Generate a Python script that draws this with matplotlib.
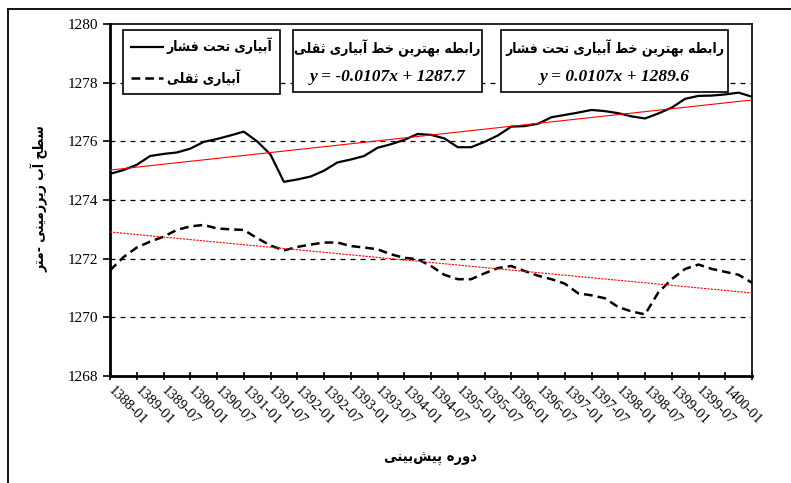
import matplotlib
matplotlib.use('Agg')
import matplotlib.pyplot as plt
from matplotlib.lines import Line2D
from matplotlib.patches import Rectangle
import numpy as np

plt.rcParams['font.family'] = 'DejaVu Sans'

# ----------------------------------------------------------------------------
# Data (quarterly readings, month index counted from the first category)
# ----------------------------------------------------------------------------
months = list(range(0, 145, 3))

pressurized = [1274.89, 1275.02, 1275.20, 1275.50, 1275.57, 1275.62, 1275.75,
               1275.98, 1276.08, 1276.20, 1276.33, 1276.00, 1275.55, 1274.62,
               1274.70, 1274.80, 1275.00, 1275.28, 1275.38, 1275.50, 1275.78,
               1275.90, 1276.05, 1276.25, 1276.22, 1276.10, 1275.80, 1275.80,
               1275.98, 1276.20, 1276.50, 1276.52, 1276.60, 1276.82, 1276.90,
               1276.98, 1277.07, 1277.03, 1276.96, 1276.85, 1276.78, 1276.95,
               1277.15, 1277.45, 1277.55, 1277.56, 1277.60, 1277.66, 1277.52]

gravity = [1271.60, 1272.05, 1272.38, 1272.58, 1272.75, 1272.98, 1273.10,
           1273.15, 1273.03, 1273.00, 1272.98, 1272.70, 1272.45, 1272.28,
           1272.40, 1272.48, 1272.55, 1272.55, 1272.43, 1272.38, 1272.32,
           1272.15, 1272.03, 1271.98, 1271.75, 1271.45, 1271.30, 1271.30,
           1271.50, 1271.68, 1271.75, 1271.58, 1271.42, 1271.30, 1271.15,
           1270.82, 1270.75, 1270.65, 1270.35, 1270.20, 1270.10, 1270.85,
           1271.30, 1271.65, 1271.80, 1271.65, 1271.55, 1271.45, 1271.18]

# trend line end points (first and last month)
trend_months = [0, 144]
trend_pressurized = [1275.02, 1277.41]
trend_gravity = [1272.91, 1270.83]

tick_months = list(range(0, 145, 6))
tick_labels = ['1388-01', '1389-01', '1389-07', '1390-01', '1390-07', '1391-01',
               '1391-07', '1392-01', '1392-07', '1393-01', '1393-07', '1394-01',
               '1394-07', '1395-01', '1395-07', '1396-01', '1396-07', '1397-01',
               '1397-07', '1398-01', '1398-07', '1399-01', '1399-07', '1400-01', '']
y_ticks = [1268, 1270, 1272, 1274, 1276, 1278, 1280]

label_pressurized = 'آبیاری تحت فشار'
label_gravity = 'آبیاری ثقلی'
title_gravity = 'رابطه بهترین خط آبیاری ثقلی'
title_pressurized = 'رابطه بهترین خط آبیاری تحت فشار'
eq_gravity = 'y = -0.0107x + 1287.7'
eq_pressurized = 'y = 0.0107x + 1289.6'
y_label = 'سطح آب زیرزمینی -متر'
x_label = 'دوره پیش\u200cبینی'

# ----------------------------------------------------------------------------
# Minimal Persian shaping (matplotlib does not shape Arabic script)
# (isolated, final, initial, medial)
# ----------------------------------------------------------------------------
FORMS = {
    'ا': ('\uFE8D', '\uFE8E', None, None),
    'آ': ('\uFE81', '\uFE82', None, None),
    'ب': ('\uFE8F', '\uFE90', '\uFE91', '\uFE92'),
    'پ': ('\uFB56', '\uFB57', '\uFB58', '\uFB59'),
    'ت': ('\uFE95', '\uFE96', '\uFE97', '\uFE98'),
    'ث': ('\uFE99', '\uFE9A', '\uFE9B', '\uFE9C'),
    'ح': ('\uFEA1', '\uFEA2', '\uFEA3', '\uFEA4'),
    'خ': ('\uFEA5', '\uFEA6', '\uFEA7', '\uFEA8'),
    'د': ('\uFEA9', '\uFEAA', None, None),
    'ر': ('\uFEAD', '\uFEAE', None, None),
    'ز': ('\uFEAF', '\uFEB0', None, None),
    'س': ('\uFEB1', '\uFEB2', '\uFEB3', '\uFEB4'),
    'ش': ('\uFEB5', '\uFEB6', '\uFEB7', '\uFEB8'),
    'ط': ('\uFEC1', '\uFEC2', '\uFEC3', '\uFEC4'),
    'ف': ('\uFED1', '\uFED2', '\uFED3', '\uFED4'),
    'ق': ('\uFED5', '\uFED6', '\uFED7', '\uFED8'),
    'ل': ('\uFEDD', '\uFEDE', '\uFEDF', '\uFEE0'),
    'م': ('\uFEE1', '\uFEE2', '\uFEE3', '\uFEE4'),
    'ن': ('\uFEE5', '\uFEE6', '\uFEE7', '\uFEE8'),
    'ه': ('\uFEE9', '\uFEEA', '\uFEEB', '\uFEEC'),
    'و': ('\uFEED', '\uFEEE', None, None),
    'ی': ('\uFBFC', '\uFBFD', '\uFBFE', '\uFBFF'),
}


def fa(s):
    out = []
    for i, c in enumerate(s):
        if c == '\u200c':
            continue
        if c not in FORMS:
            out.append(c)
            continue
        iso, fin, ini, med = FORMS[c]
        prev = s[i - 1] if i > 0 else ''
        nxt = s[i + 1] if i + 1 < len(s) else ''
        jp = prev in FORMS and FORMS[prev][2] is not None
        jn = ini is not None and nxt in FORMS
        if jp and jn:
            out.append(med)
        elif jp:
            out.append(fin)
        elif jn:
            out.append(ini)
        else:
            out.append(iso)
    return ''.join(reversed(out))


FA_FONT = {'family': 'DejaVu Sans', 'weight': 'bold', 'stretch': 'condensed'}

# ----------------------------------------------------------------------------
# Figure
# ----------------------------------------------------------------------------
W, H = 791, 483
fig = plt.figure(figsize=(W / 100, H / 100), dpi=100)


def fx(px):
    return px / W


def fy(py):
    return 1 - py / H


ax = fig.add_axes([fx(110), fy(376), fx(752) - fx(110), fy(24) - fy(376)])

# outer chart-area frame
fig.add_artist(Line2D([fx(8), fx(8)], [fy(9), 0], transform=fig.transFigure,
                      color='black', lw=1.3))
fig.add_artist(Line2D([fx(8), 1], [fy(9), fy(9)], transform=fig.transFigure,
                      color='black', lw=1.3))

ax.set_xlim(0, 144)
ax.set_ylim(1268, 1280)

for y in y_ticks[1:-1]:
    ax.axhline(y, color='black', lw=0.9, ls=(0, (4, 4)), zorder=1)

ax.plot(months, pressurized, color='black', lw=1.6, zorder=3,
        label=fa(label_pressurized))
ax.plot(months, gravity, color='black', lw=1.8, ls=(0, (3.5, 2)), zorder=3,
        label=fa(label_gravity))
ax.plot(trend_months, trend_pressurized, color='red', lw=0.8, zorder=4)
ax.plot(trend_months, trend_gravity, color='red', lw=0.8, ls=(0, (2, 1)), zorder=4)

ax.set_yticks(y_ticks)
ax.set_yticklabels([str(v) for v in y_ticks], family='Liberation Serif', fontsize=11)
ax.set_xticks(tick_months)
ax.set_xticklabels(tick_labels, family='Liberation Serif', fontsize=10.5,
                   rotation=-45, ha='left', va='center', rotation_mode='anchor')
ax.tick_params(axis='y', direction='out', length=5, width=1.2)
ax.tick_params(axis='x', direction='inout', length=6, width=1.2, pad=6)

for side in ['left', 'bottom']:
    ax.spines[side].set_linewidth(2)
for side in ['top', 'right']:
    ax.spines[side].set_linewidth(1.2)

fig.text(fx(40), fy(199), fa(y_label), rotation=90, ha='center', va='center',
         fontsize=10, **FA_FONT)
fig.text(fx(430), fy(459), fa(x_label), ha='center', va='center',
         fontsize=10.5, **FA_FONT)

# legend
leg = ax.legend(loc='upper left', bbox_to_anchor=(fx(123), fy(30)),
                bbox_transform=fig.transFigure, borderaxespad=0,
                prop={'weight': 'bold', 'size': 10, 'stretch': 'condensed'},
                fancybox=False, edgecolor='black', framealpha=1,
                handlelength=2.3, handletextpad=0.3, labelspacing=1.05,
                borderpad=0.55)
leg.get_frame().set_linewidth(1.2)
leg.set_zorder(6)

# equation boxes
boxes = [(293, 482, title_gravity, eq_gravity),
         (501, 728, title_pressurized, eq_pressurized)]
for x0, x1, title, eq in boxes:
    fig.add_artist(Rectangle((fx(x0), fy(92)), fx(x1) - fx(x0), fy(30) - fy(92),
                             transform=fig.transFigure, facecolor='white',
                             edgecolor='black', lw=1.2, zorder=5))
    cx = fx((x0 + x1) / 2)
    fig.text(cx, fy(48), fa(title), ha='center', va='center', fontsize=10,
             zorder=6, **FA_FONT)
    fig.text(cx, fy(77), eq, ha='center', va='center', fontsize=12.5,
             family='Liberation Serif', fontweight='bold', style='italic', zorder=6)

fig.savefig('out.png', dpi=100)
